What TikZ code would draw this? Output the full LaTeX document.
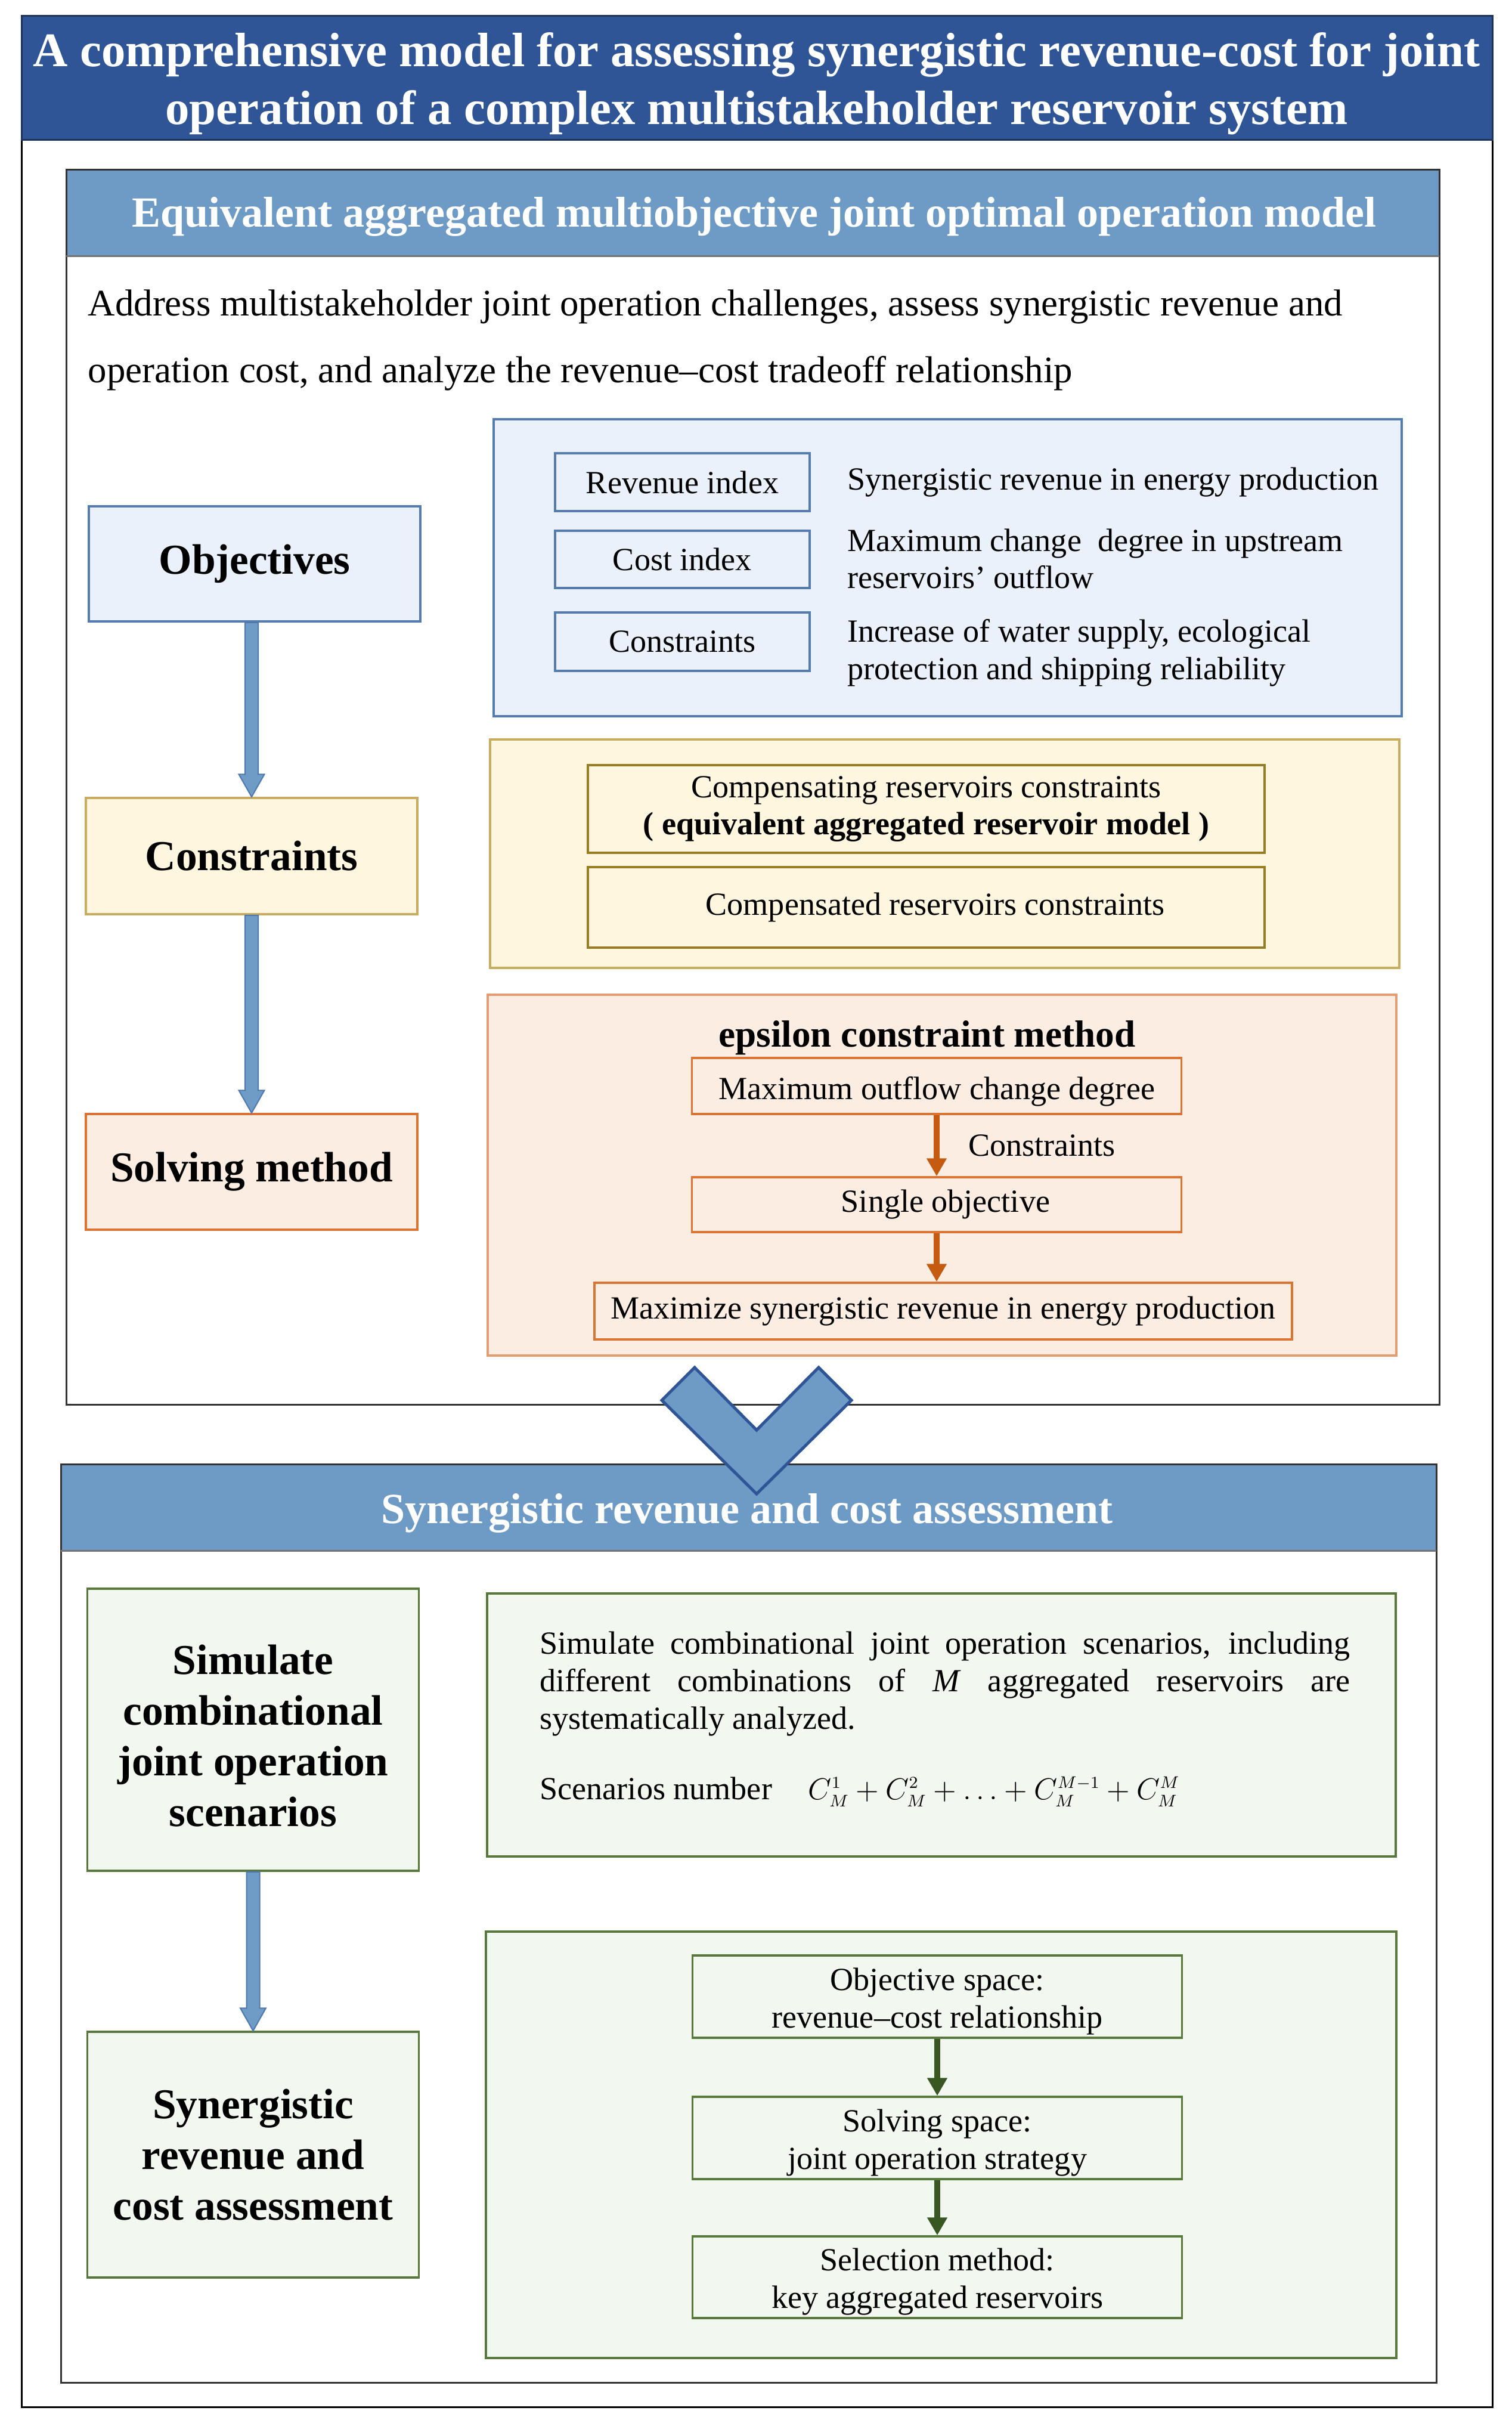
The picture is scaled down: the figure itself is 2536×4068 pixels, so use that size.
\documentclass[tikz,border=0pt]{standalone}
\usepackage{fontspec}
\setmainfont{Liberation Serif}
\usetikzlibrary{calc,arrows.meta}
\definecolor{titleblue}{RGB}{47,85,151}
\definecolor{headblue}{RGB}{110,155,197}
\definecolor{bluefill}{RGB}{234,241,250}
\definecolor{blueline}{RGB}{84,124,175}
\definecolor{arrowblue}{RGB}{110,156,198}
\definecolor{arrowline}{RGB}{79,120,175}
\definecolor{yellowfill}{RGB}{255,246,224}
\definecolor{goldline}{RGB}{200,172,95}
\definecolor{oliveline}{RGB}{150,125,35}
\definecolor{orangefill}{RGB}{252,237,227}
\definecolor{orangepanel}{RGB}{226,157,115}
\definecolor{orangeline}{RGB}{218,116,52}
\definecolor{arroworange}{RGB}{197,90,17}
\definecolor{greenfill}{RGB}{242,247,240}
\definecolor{greenline}{RGB}{88,120,60}
\definecolor{arrowgreen}{RGB}{56,87,35}
\newcommand{\fatarrow}[2]{%
  \filldraw[fill=arrowblue, draw=arrowline, line width=0.2mm]
    ($(#1.south -| #2.north)+(-11,0)$) -- ($(#2.north)+(-11,-38)$) -- ($(#2.north)+(-21.5,-38)$)
    -- (#2.north) -- ($(#2.north)+(21.5,-38)$) -- ($(#2.north)+(11,-38)$)
    -- ($(#1.south -| #2.north)+(11,0)$) -- cycle;}
\newcommand{\combi}[1]{C_{\scriptscriptstyle M}^{\scriptscriptstyle #1}}
\begin{document}
\begin{tikzpicture}[x=0.1mm, y=-0.1mm,
    txt/.style={font=\fontsize{15.4}{17.9}\selectfont},
    lbox/.style={line width=0.35mm, inner sep=0pt, minimum width=55.6mm, align=center,
      font=\bfseries\fontsize{20.3}{24.2}\selectfont},
    ibox/.style={txt, line width=0.35mm, inner sep=0pt, align=center},
    panel/.style={line width=0.35mm},
    oarrow/.style={draw=arroworange, line width=1mm, -{Triangle[width=3.2mm,length=3mm]}},
    garrow/.style={draw=arrowgreen, line width=1mm, -{Triangle[width=3.2mm,length=3mm]}}]
    \useasboundingbox (0,0) rectangle (2536,4068);
    \fill[white] (0,0) rectangle (2536,4068);
    \draw[line width=0.3mm] (36,26) rectangle (2503,4036);
    \filldraw[fill=titleblue, draw=titleblue!60!black, line width=0.3mm] (36,26) rectangle (2503,234);
    \node[font=\bfseries\fontsize{23}{27.6}\selectfont, text=white, align=center] (title) at (1269,140)
      {A comprehensive model for assessing synergistic revenue-cost for joint\\operation of a complex multistakeholder reservoir system};
    % first part
    \fill[headblue] (111,284) rectangle (2414,429);
    \draw[line width=0.3mm, black!80] (111,284) rectangle (2414,2355);
    \draw[line width=0.3mm, black!55] (111,429) -- (2414,429);
    \node[font=\bfseries\fontsize{20.5}{24}\selectfont, text=white] (head1) at (1265,363)
      {Equivalent aggregated multiobjective joint optimal operation model};
    \node[font=\fontsize{17.9}{31.9}\selectfont, anchor=west, align=left, inner sep=0pt] (aim) at (147,570)
      {Address multistakeholder joint operation challenges, assess synergistic revenue and\\operation cost, and analyze the revenue--cost tradeoff relationship};
    \node[lbox, draw=blueline, fill=bluefill, minimum height=19.3mm] (obj) at (427,945.5) {Objectives};
    \node[lbox, draw=goldline, fill=yellowfill, minimum height=19.5mm] (cons) at (422,1435.5) {Constraints};
    \node[lbox, draw=orangeline, fill=orangefill, minimum height=19.4mm] (solve) at (422,1965) {Solving method};
    \fatarrow{obj}{cons}
    \fatarrow{cons}{solve}
    % objectives
    \filldraw[panel, fill=bluefill, draw=blueline] (828,703) rectangle (2351,1201);
    \node[ibox, draw=blueline, minimum width=42.7mm, minimum height=9.7mm] (rev) at (1144.5,808.5) {Revenue index};
    \node[ibox, draw=blueline, minimum width=42.7mm, minimum height=9.6mm] (cost) at (1144.5,938) {Cost index};
    \node[ibox, draw=blueline, minimum width=42.7mm, minimum height=9.8mm] (limit) at (1144.5,1076) {Constraints};
    \node[txt, anchor=west, align=left, inner sep=0pt] (revtxt) at (1421,809) {Synergistic revenue in energy production};
    \node[txt, anchor=west, align=left, inner sep=0pt] (costtxt) at (1421,937) {Maximum change\ \ degree in upstream\\reservoirs’ outflow};
    \node[txt, anchor=west, align=left, inner sep=0pt] (limtxt) at (1421,1095) {Increase of water supply, ecological\\protection and shipping reliability};
    % constraints
    \filldraw[panel, fill=yellowfill, draw=goldline] (822,1240) rectangle (2347,1623);
    \node[ibox, draw=oliveline, minimum width=113.5mm, minimum height=14.7mm] (comp) at (1553.5,1356.5)
      {Compensating reservoirs constraints\\\textbf{( equivalent aggregated reservoir model )}};
    \node[ibox, draw=oliveline, minimum width=113.5mm, minimum height=13.5mm] (compd) at (1553.5,1521.5)
      {\hspace*{3mm}Compensated reservoirs constraints};
    % solving method
    \filldraw[panel, fill=orangefill, draw=orangepanel] (818,1668) rectangle (2342,2273);
    \node[font=\bfseries\fontsize{18}{20}\selectfont] (eps) at (1555,1740) {epsilon constraint method};
    \node[ibox, draw=orangeline, minimum width=82.1mm, minimum height=9.4mm, text height=5.6mm, text depth=1.2mm] (maxout) at (1571,1821)
      {Maximum outflow change degree};
    \node[ibox, draw=orangeline, minimum width=82.1mm, minimum height=9.2mm] (single) at (1571,2020) {\hspace*{3mm}Single objective};
    \node[ibox, draw=orangeline, minimum width=117mm, minimum height=9.5mm] (maxrev) at (1582,2198.5)
      {Maximize synergistic revenue in energy production};
    \draw[oarrow] (maxout) -- node[txt, anchor=west, xshift=4.8mm, inner sep=0pt] (epslab) {Constraints} (single);
    \draw[oarrow] (single.south) -- (single.south |- maxrev.north);
    % second part
    \fill[headblue] (102,2455) rectangle (2409,2600);
    \draw[line width=0.3mm, black!80] (102,2455) rectangle (2409,3995);
    \draw[line width=0.3mm, black!55] (102,2600) -- (2409,2600);
    \node[font=\bfseries\fontsize{20.5}{24}\selectfont, text=white] (head2) at (1253,2537)
      {Synergistic revenue and cost assessment};
    \filldraw[fill=headblue, draw=titleblue, line width=0.5mm] (1165,2293) -- (1269,2398) -- (1373,2293)
      -- (1428,2348) -- (1269,2505) -- (1110,2348) -- cycle;
    \node[lbox, draw=greenline, fill=greenfill, minimum height=47.3mm] (sim) at (424.5,2900.5)
      {\rule{0pt}{20pt}Simulate\\combinational\\joint operation\\scenarios};
    \node[lbox, draw=greenline, fill=greenfill, minimum height=41.2mm] (assess) at (424.5,3613)
      {Synergistic\\revenue and\\cost assessment};
    \fatarrow{sim}{assess}
    \filldraw[panel, fill=greenfill, draw=greenline] (817,2672) rectangle (2341,3113);
    \node[txt, anchor=north west, align=left, inner sep=0pt] (scen) at (905,2735)
      {\makebox[135.9mm][s]{Simulate combinational joint operation scenarios, including}\\
       \makebox[135.9mm][s]{different combinations of \textit{M} aggregated reservoirs are}\\
       systematically analyzed.};
    \node[txt, anchor=base west, inner sep=0pt] (scennum) at (905,3017)
      {\makebox[45mm][l]{Scenarios number}$\combi{1}+\combi{2}+\ldots+\combi{M-1}+\combi{M}$};
    \filldraw[panel, fill=greenfill, draw=greenline] (815,3239) rectangle (2342,3954);
    \node[ibox, draw=greenline, minimum width=82.1mm, minimum height=13.8mm] (objsp) at (1572,3348)
      {\rule{0pt}{15pt}Objective space:\\revenue--cost relationship};
    \node[ibox, draw=greenline, minimum width=82.1mm, minimum height=13.8mm] (solsp) at (1572,3585)
      {\rule{0pt}{15pt}Solving space:\\joint operation strategy};
    \node[ibox, draw=greenline, minimum width=82.1mm, minimum height=13.7mm] (selm) at (1572,3818.5)
      {\rule{0pt}{15pt}Selection method:\\key aggregated reservoirs};
    \draw[garrow] (objsp) -- (solsp);
    \draw[garrow] (solsp) -- (selm);
\end{tikzpicture}
\end{document}
